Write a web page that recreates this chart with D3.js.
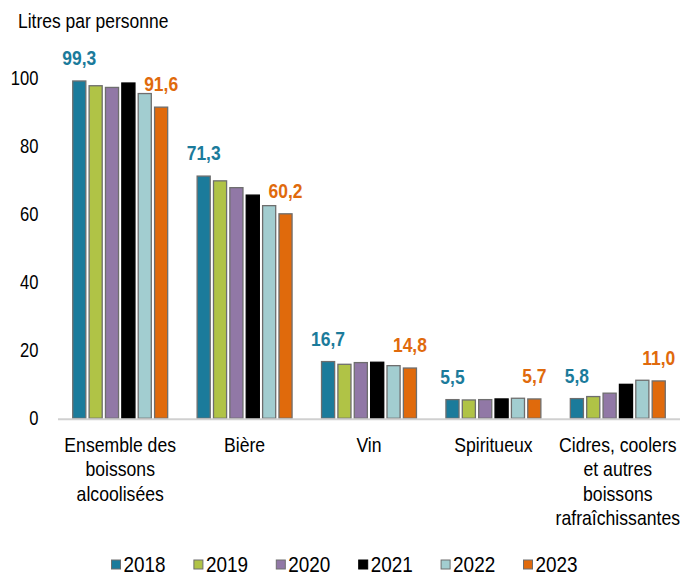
<!DOCTYPE html>
<html>
<head>
<meta charset="utf-8">
<script src="https://cdn.jsdelivr.net/npm/d3@7"></script>
<style>
  body { margin: 0; background: #fff; }
  text { font-family: "Liberation Sans", Arial, sans-serif; fill: #000; }
</style>
</head>
<body>
<div id="chart"></div>
<script>
var categories = [
    ["Ensemble des", "boissons", "alcoolisées"],
    ["Bière"],
    ["Vin"],
    ["Spiritueux"],
    ["Cidres, coolers", "et autres", "boissons", "rafraîchissantes"]
]
var years = ["2018", "2019", "2020", "2021", "2022", "2023"]
var colors = ["#1b7b9b", "#b0c346", "#9178a6", "#000000", "#a2cdd0", "#e06a0c"]

// litres par personne, one array per category, 2018..2023
var ensemble = [99.3, 97.9, 97.4, 98.7, 95.6, 91.6]
var biere = [71.3, 69.9, 67.9, 65.7, 62.6, 60.2]
var vin = [16.7, 15.9, 16.4, 16.5, 15.5, 14.8]
var spiritueux = [5.5, 5.4, 5.5, 5.7, 5.9, 5.7]
var cidres = [5.8, 6.4, 7.4, 10.0, 11.2, 11.0]
var values = [ensemble, biere, vin, spiritueux, cidres]

var yTicks = [0, 20, 40, 60, 80, 100]

var width = 680,
    height = 575,
    sx = 0.86   // the text in the original is a bit narrow

var svg = d3.select("#chart")
    .append("svg")
    .attr("width", width)
    .attr("height", height)

// place a text at (x, y) squeezed horizontally
function place(x, y) {
    return "translate(" + x + "," + y + ") scale(" + sx + ",1)"
}

var x0 = d3.scaleBand()
    .domain(d3.range(categories.length))
    .range([58, 680])

var x1 = d3.scaleBand()
    .domain(years)
    .range([0, x0.bandwidth()])
    .paddingInner(0.2)
    .paddingOuter(0.9)

var y = d3.scaleLinear()
    .domain([0, 100])
    .range([418.3, 78.6])

// y tick labels
svg.append("g")
    .selectAll("text")
    .data(yTicks)
    .join("text")
    .attr("transform", function(d) { return place(38.5, y(d) + 6.5) })
    .attr("text-anchor", "end")
    .style("font-size", "19.3px")
    .text(function(d) { return d })

svg.append("text")
    .attr("transform", place(18, 28))
    .style("font-size", "20.3px")
    .text("Litres par personne")

// bars
var groups = svg.append("g")
    .selectAll("g")
    .data(values)
    .join("g")
    .attr("transform", function(d, i) { return "translate(" + x0(i) + ",0)" })

groups.selectAll("rect")
    .data(function(d) { return d })
    .join("rect")
    .attr("x", function(d, i) { return x1(years[i]) })
    .attr("y", function(d) { return y(d) })
    .attr("width", x1.bandwidth())
    .attr("height", function(d) { return y(0) - y(d) })
    .attr("fill", function(d, i) { return colors[i] })
    .attr("stroke", function(d, i) { return i == 3 ? "#000" : "#6e6e6e" })
    .attr("stroke-width", 1.3)

// value labels for first and last year
groups.selectAll("text")
    .data(function(d) { return [0, d.length - 1].map(function(i) { return { i: i, v: d[i] } }) })
    .join("text")
    .attr("transform", function(d) { return place(x1(years[d.i]) + x1.bandwidth() / 2, y(d.v) - 16) })
    .attr("text-anchor", "middle")
    .style("font-size", "20.3px")
    .style("font-weight", "bold")
    .style("fill", function(d) { return d.i == 0 ? "#1b7b9b" : "#e06a0c" })
    .text(function(d) { return d.v.toFixed(1).replace(".", ",") })

// baseline
svg.append("line")
    .attr("x1", 58)
    .attr("x2", 680)
    .attr("y1", y(0) + 1)
    .attr("y2", y(0) + 1)
    .attr("stroke", "#d0d0d0")
    .attr("stroke-width", 2)

// category labels
var catLabels = svg.append("g")
    .selectAll("g")
    .data(categories)
    .join("g")

catLabels.selectAll("text")
    .data(function(lines, i) { return lines.map(function(t) { return { t: t, i: i } }) })
    .join("text")
    .attr("transform", function(d, j) { return place(x0(d.i) + x0.bandwidth() / 2, 451.5 + j * 24.5) })
    .attr("text-anchor", "middle")
    .style("font-size", "20.5px")
    .text(function(d) { return d.t })

// legend
var legend = svg.append("g")
    .selectAll("g")
    .data(years)
    .join("g")
    .attr("transform", function(d, i) { return "translate(" + (111 + i * 82.4) + ",0)" })

legend.append("rect")
    .attr("x", 0.5)
    .attr("y", 560)
    .attr("width", 9)
    .attr("height", 9)
    .attr("fill", function(d, i) { return colors[i] })
    .attr("stroke", function(d, i) { return i == 3 ? "#000" : "#6e6e6e" })
    .attr("stroke-width", 1)

legend.append("text")
    .attr("transform", place(12.5, 572))
    .style("font-size", "22px")
    .text(function(d) { return d })
</script>
</body>
</html>
